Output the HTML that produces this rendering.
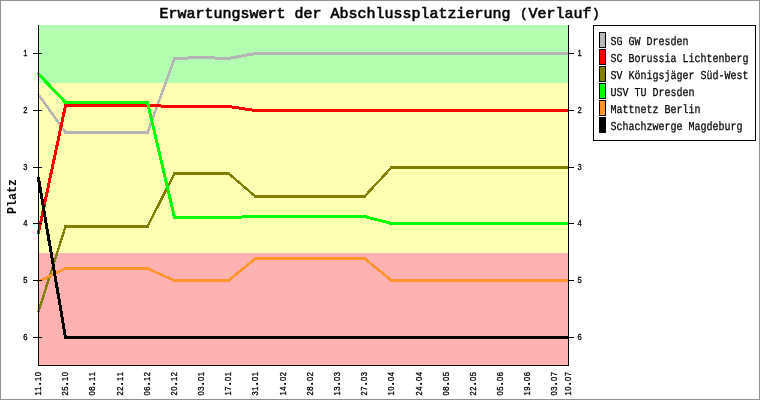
<!DOCTYPE html>
<html lang="de"><head><meta charset="utf-8"><title>Erwartungswert der Abschlussplatzierung (Verlauf)</title>
<style>
html,body{margin:0;padding:0;background:#fff;}
svg{display:block}
text{font-family:"Liberation Mono","DejaVu Sans Mono",monospace;fill:#000}
.t{font-size:15px;stroke:#000;stroke-width:0.6px}
.s{font-family:"Liberation Sans","DejaVu Sans",sans-serif;font-size:8.6px;stroke:#000;stroke-width:0.3px}
.d{font-size:13px;font-weight:bold;stroke:none}
.p{font-size:12px;letter-spacing:1px}
.l{font-size:12.15px;text-rendering:geometricPrecision;stroke:#000;stroke-width:0.25px}
.y{font-size:13.66px;font-weight:bold}
</style></head><body>
<svg width="760" height="400" viewBox="0 0 760 400">
<g shape-rendering="crispEdges">
<rect x="0" y="0" width="760" height="400" fill="#fff"/>
<rect x="0.5" y="0.5" width="759" height="399" fill="none" stroke="#909090"/>
<rect x="39" y="25" width="529" height="58" fill="#B2FFB2"/>
<rect x="39" y="83" width="529" height="170" fill="#FFFFB2"/>
<rect x="39" y="253" width="529" height="112" fill="#FFB2B2"/>
<clipPath id="cp"><rect x="36" y="20" width="533" height="350"/></clipPath>
<g clip-path="url(#cp)" fill="none" stroke-linecap="round">
<g stroke="#B4B4B4">
<line x1="38.5" y1="94.5" x2="65.5" y2="132.5" stroke-width="2.5"/>
<line x1="65.5" y1="132.5" x2="147.5" y2="132.5" stroke-width="3"/>
<line x1="147.5" y1="132.5" x2="174.5" y2="58.5" stroke-width="2.5"/>
<line x1="174.5" y1="58.5" x2="201.5" y2="57.5" stroke-width="3"/>
<line x1="201.5" y1="57.5" x2="228.5" y2="58.5" stroke-width="3"/>
<line x1="228.5" y1="58.5" x2="255.5" y2="53.5" stroke-width="3"/>
<line x1="255.5" y1="53.5" x2="568.5" y2="53.5" stroke-width="3"/>
</g>
<g stroke="#FF0000">
<line x1="38.5" y1="232.5" x2="65.5" y2="105.5" stroke-width="3"/>
<line x1="65.5" y1="105.5" x2="147.5" y2="105.5" stroke-width="3"/>
<line x1="147.5" y1="105.5" x2="174.5" y2="106.5" stroke-width="3"/>
<line x1="174.5" y1="106.5" x2="228.5" y2="106.5" stroke-width="3"/>
<line x1="228.5" y1="106.5" x2="255.5" y2="110.5" stroke-width="3"/>
<line x1="255.5" y1="110.5" x2="568.5" y2="110.5" stroke-width="3"/>
</g>
<g stroke="#807E00">
<line x1="38.5" y1="311.5" x2="65.5" y2="226.5" stroke-width="2.4"/>
<line x1="65.5" y1="226.5" x2="147.5" y2="226.5" stroke-width="3"/>
<line x1="147.5" y1="226.5" x2="174.5" y2="173.5" stroke-width="2.4"/>
<line x1="174.5" y1="173.5" x2="228.5" y2="173.5" stroke-width="3"/>
<line x1="228.5" y1="173.5" x2="255.5" y2="196.5" stroke-width="2.4"/>
<line x1="255.5" y1="196.5" x2="364.5" y2="196.5" stroke-width="3"/>
<line x1="364.5" y1="196.5" x2="391.5" y2="167.5" stroke-width="2.4"/>
<line x1="391.5" y1="167.5" x2="568.5" y2="167.5" stroke-width="3"/>
</g>
<g stroke="#00FF00">
<line x1="38.5" y1="74" x2="65.5" y2="102.5" stroke-width="3"/>
<line x1="65.5" y1="102.5" x2="147.5" y2="102.5" stroke-width="3"/>
<line x1="147.5" y1="102.5" x2="174.5" y2="217.5" stroke-width="3"/>
<line x1="174.5" y1="217.5" x2="228.5" y2="217.5" stroke-width="3"/>
<line x1="228.5" y1="217.5" x2="255.5" y2="216.5" stroke-width="3"/>
<line x1="255.5" y1="216.5" x2="364.5" y2="216.5" stroke-width="3"/>
<line x1="364.5" y1="216.5" x2="391.5" y2="223.5" stroke-width="3"/>
<line x1="391.5" y1="223.5" x2="568.5" y2="223.5" stroke-width="3"/>
</g>
<g stroke="#FF9428">
<line x1="38.5" y1="281.5" x2="65.5" y2="268.5" stroke-width="2.6"/>
<line x1="65.5" y1="268.5" x2="147.5" y2="268.5" stroke-width="3"/>
<line x1="147.5" y1="268.5" x2="174.5" y2="280.5" stroke-width="2.6"/>
<line x1="174.5" y1="280.5" x2="228.5" y2="280.5" stroke-width="3"/>
<line x1="228.5" y1="280.5" x2="255.5" y2="258.5" stroke-width="2.6"/>
<line x1="255.5" y1="258.5" x2="364.5" y2="258.5" stroke-width="3"/>
<line x1="364.5" y1="258.5" x2="391.5" y2="280.5" stroke-width="2.6"/>
<line x1="391.5" y1="280.5" x2="568.5" y2="280.5" stroke-width="3"/>
</g>
<g stroke="#000000">
<line x1="38.5" y1="178.5" x2="65.5" y2="337.5" stroke-width="3"/>
<line x1="65.5" y1="337.5" x2="568.5" y2="337.5" stroke-width="3"/>
</g>
</g>
<path d="M38.5 25V365.5M568.5 25V365.5M38 365.5H569" stroke="#000" stroke-width="1" fill="none"/>
<path d="M33 53.5 H42 M569 53.5 H574 M33 110.5 H42 M569 110.5 H574 M33 167.5 H42 M569 167.5 H574 M33 223.5 H42 M569 223.5 H574 M33 280.5 H42 M569 280.5 H574 M33 337.5 H42 M569 337.5 H574 " stroke="#000" stroke-width="1" fill="none"/>
<rect x="593.5" y="25.5" width="162" height="115" fill="#fff" stroke="#000"/>
<rect x="599.5" y="32.5" width="6" height="15" fill="#B8B8B8" stroke="#000"/>
<rect x="599.5" y="49.5" width="6" height="15" fill="#FF0000" stroke="#000"/>
<rect x="599.5" y="66.5" width="6" height="15" fill="#807E00" stroke="#000"/>
<rect x="599.5" y="83.5" width="6" height="15" fill="#00FF00" stroke="#000"/>
<rect x="599.5" y="100.5" width="6" height="15" fill="#FF9428" stroke="#000"/>
<rect x="599.5" y="117.5" width="6" height="15" fill="#000000" stroke="#000"/>
</g>
<text class="t" x="380" y="18" text-anchor="middle">Erwartungswert der Abschlussplatzierung <tspan class="p" dx="0.8" dy="-1.4">(</tspan><tspan dy="1.4">Verlauf</tspan><tspan class="p" dx="0.8" dy="-1.4">)</tspan></text>
<text class="s" transform="translate(27.4,56) scale(0.88,1)" text-anchor="end">1</text>
<text class="s" transform="translate(577.6,56) scale(0.88,1)">1</text>
<text class="s" transform="translate(27.4,113) scale(0.88,1)" text-anchor="end">2</text>
<text class="s" transform="translate(577.6,113) scale(0.88,1)">2</text>
<text class="s" transform="translate(27.4,170) scale(0.88,1)" text-anchor="end">3</text>
<text class="s" transform="translate(577.6,170) scale(0.88,1)">3</text>
<text class="s" transform="translate(27.4,226) scale(0.88,1)" text-anchor="end">4</text>
<text class="s" transform="translate(577.6,226) scale(0.88,1)">4</text>
<text class="s" transform="translate(27.4,283) scale(0.88,1)" text-anchor="end">5</text>
<text class="s" transform="translate(577.6,283) scale(0.88,1)">5</text>
<text class="s" transform="translate(27.4,340) scale(0.88,1)" text-anchor="end">6</text>
<text class="s" transform="translate(577.6,340) scale(0.88,1)">6</text>
<text class="s" transform="translate(41,395.5) rotate(-90) scale(0.88,1)" x="0 5.45455 11.25 16.3636 21.8182">11<tspan class="d">.</tspan>10</text>
<text class="s" transform="translate(68.1795,395.5) rotate(-90) scale(0.88,1)" x="0 5.45455 11.25 16.3636 21.8182">25<tspan class="d">.</tspan>10</text>
<text class="s" transform="translate(95.359,395.5) rotate(-90) scale(0.88,1)" x="0 5.45455 11.25 16.3636 21.8182">08<tspan class="d">.</tspan>11</text>
<text class="s" transform="translate(122.538,395.5) rotate(-90) scale(0.88,1)" x="0 5.45455 11.25 16.3636 21.8182">22<tspan class="d">.</tspan>11</text>
<text class="s" transform="translate(149.718,395.5) rotate(-90) scale(0.88,1)" x="0 5.45455 11.25 16.3636 21.8182">06<tspan class="d">.</tspan>12</text>
<text class="s" transform="translate(176.897,395.5) rotate(-90) scale(0.88,1)" x="0 5.45455 11.25 16.3636 21.8182">20<tspan class="d">.</tspan>12</text>
<text class="s" transform="translate(204.077,395.5) rotate(-90) scale(0.88,1)" x="0 5.45455 11.25 16.3636 21.8182">03<tspan class="d">.</tspan>01</text>
<text class="s" transform="translate(231.256,395.5) rotate(-90) scale(0.88,1)" x="0 5.45455 11.25 16.3636 21.8182">17<tspan class="d">.</tspan>01</text>
<text class="s" transform="translate(258.436,395.5) rotate(-90) scale(0.88,1)" x="0 5.45455 11.25 16.3636 21.8182">31<tspan class="d">.</tspan>01</text>
<text class="s" transform="translate(285.615,395.5) rotate(-90) scale(0.88,1)" x="0 5.45455 11.25 16.3636 21.8182">14<tspan class="d">.</tspan>02</text>
<text class="s" transform="translate(312.795,395.5) rotate(-90) scale(0.88,1)" x="0 5.45455 11.25 16.3636 21.8182">28<tspan class="d">.</tspan>02</text>
<text class="s" transform="translate(339.974,395.5) rotate(-90) scale(0.88,1)" x="0 5.45455 11.25 16.3636 21.8182">13<tspan class="d">.</tspan>03</text>
<text class="s" transform="translate(367.154,395.5) rotate(-90) scale(0.88,1)" x="0 5.45455 11.25 16.3636 21.8182">27<tspan class="d">.</tspan>03</text>
<text class="s" transform="translate(394.333,395.5) rotate(-90) scale(0.88,1)" x="0 5.45455 11.25 16.3636 21.8182">10<tspan class="d">.</tspan>04</text>
<text class="s" transform="translate(421.513,395.5) rotate(-90) scale(0.88,1)" x="0 5.45455 11.25 16.3636 21.8182">24<tspan class="d">.</tspan>04</text>
<text class="s" transform="translate(448.692,395.5) rotate(-90) scale(0.88,1)" x="0 5.45455 11.25 16.3636 21.8182">08<tspan class="d">.</tspan>05</text>
<text class="s" transform="translate(475.872,395.5) rotate(-90) scale(0.88,1)" x="0 5.45455 11.25 16.3636 21.8182">22<tspan class="d">.</tspan>05</text>
<text class="s" transform="translate(503.051,395.5) rotate(-90) scale(0.88,1)" x="0 5.45455 11.25 16.3636 21.8182">05<tspan class="d">.</tspan>06</text>
<text class="s" transform="translate(530.231,395.5) rotate(-90) scale(0.88,1)" x="0 5.45455 11.25 16.3636 21.8182">19<tspan class="d">.</tspan>06</text>
<text class="s" transform="translate(557.41,395.5) rotate(-90) scale(0.88,1)" x="0 5.45455 11.25 16.3636 21.8182">03<tspan class="d">.</tspan>07</text>
<text class="s" transform="translate(571,395.5) rotate(-90) scale(0.88,1)" x="0 5.45455 11.25 16.3636 21.8182">10<tspan class="d">.</tspan>07</text>
<text class="y" transform="translate(16,214) rotate(-90) scale(0.854,1)">Platz</text>
<text class="l" transform="translate(610.6,45) scale(0.823,1)">SG GW Dresden</text>
<text class="l" transform="translate(610.6,62) scale(0.823,1)">SC Borussia Lichtenberg</text>
<text class="l" transform="translate(610.6,79) scale(0.823,1)">SV Königsjäger Süd-West</text>
<text class="l" transform="translate(610.6,96) scale(0.823,1)">USV TU Dresden</text>
<text class="l" transform="translate(610.6,113) scale(0.823,1)">Mattnetz Berlin</text>
<text class="l" transform="translate(610.6,130) scale(0.823,1)">Schachzwerge Magdeburg</text>
</svg>
</body></html>
